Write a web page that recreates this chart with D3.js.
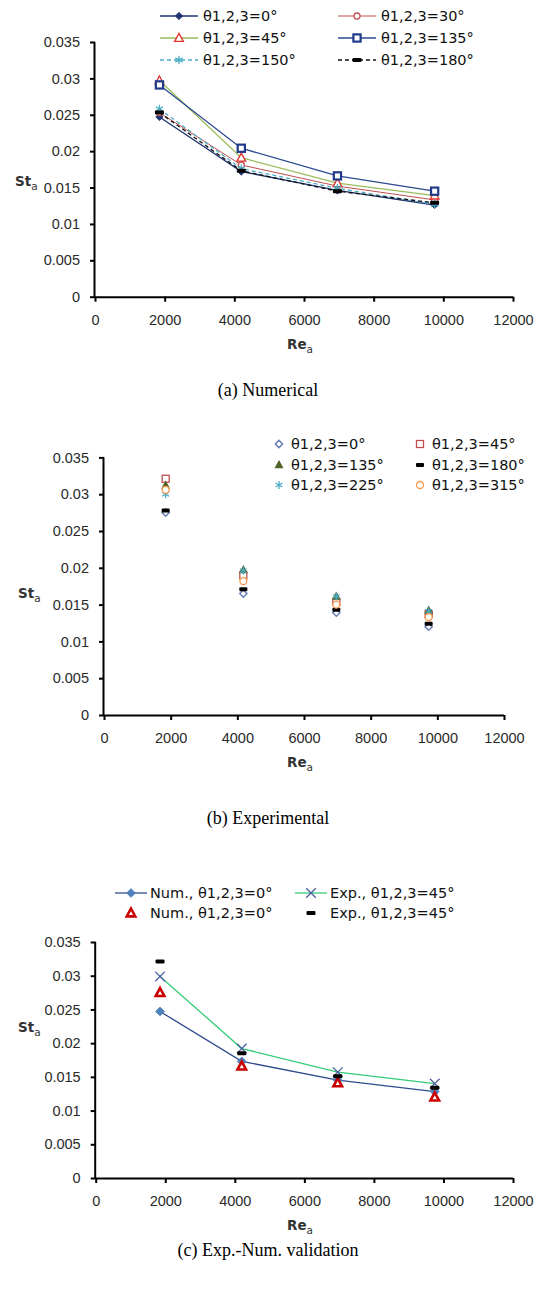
<!DOCTYPE html>
<html lang="en">
<head>
<meta charset="UTF-8">
<title>St vs Re panels</title>
<script src="https://d3js.org/d3.v7.min.js"></script>
<style>
  body { margin: 0; background: #fff; }
  svg { display: block; }
  .tick text { font-family: "Liberation Sans", Arial, sans-serif; font-size: 14.5px; fill: #2a2a2a; }
  .legend text { font-family: "DejaVu Sans", sans-serif; font-size: 14.5px; fill: #111; }
  .title { font-family: "DejaVu Sans", sans-serif; font-size: 13.5px; font-weight: bold; fill: #333; }
  .caption { font-family: "Liberation Serif", "Times New Roman", serif; font-size: 18px; fill: #000; }
</style>
</head>
<body>
<svg id="chart" width="539" height="1289"></svg>
<script>
// ---- data ----
const xTicks = [0, 2000, 4000, 6000, 8000, 10000, 12000];
const yTicks = [0, 0.005, 0.01, 0.015, 0.02, 0.025, 0.03, 0.035];

// (a) numerical
const reNum = [1850, 4200, 6960, 9750];
const numLabels = ["θ1,2,3=0°", "θ1,2,3=30°", "θ1,2,3=45°", "θ1,2,3=135°", "θ1,2,3=150°", "θ1,2,3=180°"];
const num0   = [0.0247, 0.0172, 0.0146, 0.0126];
const num30  = [0.0253, 0.0181, 0.0152, 0.0133];
const num45  = [0.0297, 0.0191, 0.0156, 0.0139];
const num135 = [0.0291, 0.0204, 0.0166, 0.0145];
const num150 = [0.0258, 0.0176, 0.0149, 0.0127];
const num180 = [0.0253, 0.0173, 0.0145, 0.0129];

// (b) experimental
const reExp = [1850, 4180, 6970, 9740];
const expLabels = ["θ1,2,3=0°", "θ1,2,3=45°", "θ1,2,3=135°", "θ1,2,3=180°", "θ1,2,3=225°", "θ1,2,3=315°"];
const exp0   = [0.0275, 0.0165, 0.0139, 0.0120];
const exp45  = [0.0321, 0.0190, 0.0154, 0.0137];
const exp135 = [0.0312, 0.0197, 0.0161, 0.0142];
const exp180 = [0.0278, 0.0171, 0.0143, 0.0124];
const exp225 = [0.0300, 0.0196, 0.0161, 0.0141];
const exp315 = [0.0306, 0.0182, 0.0150, 0.0133];

// (c) validation
const valLabels = ["Num., θ1,2,3=0°", "Exp., θ1,2,3=45°", "Num., θ1,2,3=0°", "Exp., θ1,2,3=45°"];
const valNumLine = [0.0247, 0.0173, 0.0145, 0.0128];
const valExpLine = [0.0299, 0.0192, 0.0157, 0.0140];
const valNumPts  = [0.0275, 0.0166, 0.0141, 0.0120];
const valExpPts  = [0.0321, 0.0185, 0.0151, 0.0134];

const svg = d3.select("#chart");
svg.append("rect").attr("width", 539).attr("height", 1289).attr("fill", "#fff");

// marker shapes
function marker(g, kind, color, s) {
  if (kind === "diamond" || kind === "diamondOpen") {
    g.append("path").attr("d", `M0,${-s}L${s},0L0,${s}L${-s},0Z`)
      .attr("fill", kind === "diamond" ? color : "#fff").attr("stroke", color).attr("stroke-width", kind === "diamond" ? 1 : 1.5);
  } else if (kind === "circle") {
    g.append("circle").attr("r", s).attr("fill", "#fff").attr("stroke", color).attr("stroke-width", 1.3);
  } else if (kind === "triangle" || kind === "triangleFill" || kind === "triangleBold") {
    g.append("path").attr("d", `M0,${-s}L${s * 0.95},${s * 0.75}L${-s * 0.95},${s * 0.75}Z`)
      .attr("fill", kind === "triangleFill" ? color : "#fff").attr("stroke", color)
      .attr("stroke-width", kind === "triangleBold" ? 2.6 : 1.3).attr("stroke-linejoin", "miter");
  } else if (kind === "square" || kind === "squareBold") {
    g.append("rect").attr("x", -s).attr("y", -s).attr("width", 2 * s).attr("height", 2 * s)
      .attr("fill", "#fff").attr("stroke", color).attr("stroke-width", kind === "squareBold" ? 2.2 : 1.3);
  } else if (kind === "asterisk") {
    g.append("path").attr("d", `M0,${-s}V${s}M${-s * 0.85},${-s * 0.5}L${s * 0.85},${s * 0.5}M${-s * 0.85},${s * 0.5}L${s * 0.85},${-s * 0.5}`)
      .attr("fill", "none").attr("stroke", color).attr("stroke-width", 1.3);
  } else if (kind === "x") {
    g.append("path").attr("d", `M${-s},${-s}L${s},${s}M${-s},${s}L${s},${-s}`)
      .attr("fill", "none").attr("stroke", color).attr("stroke-width", 1.3);
  } else if (kind === "dash") {
    g.append("rect").attr("x", -s).attr("y", -2).attr("width", 2 * s).attr("height", 4).attr("rx", 1)
      .attr("fill", color);
  }
}

function panel(cfg) {
  const x = d3.scaleLinear().domain([0, 12000]).range([cfg.left, cfg.right]);
  const y = d3.scaleLinear().domain([0, 0.035]).range([cfg.bottom, cfg.top]);
  const g = svg.append("g");

  const yAxis = g.append("g").attr("transform", `translate(${cfg.left},0)`)
    .call(d3.axisLeft(y).tickValues(yTicks).tickSize(5).tickPadding(10)
      .tickFormat(d => d === 0 ? "0" : String(+d.toFixed(3))));
  const xAxis = g.append("g").attr("transform", `translate(0,${cfg.bottom})`)
    .call(d3.axisBottom(x).tickValues(xTicks).tickSize(5).tickPadding(13).tickFormat(d3.format("d")));
  [xAxis, yAxis].forEach(a => {
    a.select(".domain").attr("stroke", "#000").attr("stroke-width", 2);
    a.selectAll(".tick line").attr("stroke", "#000").attr("stroke-width", 2);
  });
  yAxis.select(".domain").attr("d", `M-0.5,${cfg.top}V${cfg.bottom}`);
  xAxis.select(".domain").attr("d", `M${cfg.left},0.5H${cfg.right}`);

  // axis titles
  const yt = g.append("text").attr("class", "title").attr("x", cfg.yTitleX).attr("y", cfg.yTitleY);
  yt.append("tspan").text("St");
  yt.append("tspan").attr("dy", 4).attr("font-size", 10.5).attr("font-weight", "normal").text("a");
  const xt = g.append("text").attr("class", "title").attr("x", 300).attr("y", cfg.bottom + 52).attr("text-anchor", "middle");
  xt.append("tspan").text("Re");
  xt.append("tspan").attr("dy", 4).attr("font-size", 10.5).attr("font-weight", "normal").text("a");

  g.append("text").attr("class", "caption").attr("x", 268).attr("y", cfg.captionY)
    .attr("text-anchor", "middle").text(cfg.caption);

  const line = d3.line().x(d => x(d[0])).y(d => y(d[1]));
  cfg.series.forEach(s => {
    const pts = s.re.map((r, i) => [r, s.values[i]]);
    if (s.line) {
      g.append("path").datum(pts).attr("d", line).attr("fill", "none")
        .attr("stroke", s.line).attr("stroke-width", s.lw || 1.3)
        .attr("stroke-dasharray", s.dash || null);
    }
    pts.forEach(p => {
      const m = g.append("g").attr("transform", `translate(${x(p[0])},${y(p[1])})`);
      marker(m, s.marker, s.color, s.size);
    });
  });

  // legend
  const lg = g.append("g").attr("class", "legend");
  cfg.series.forEach((s, i) => {
    const pos = cfg.legendPos[i];
    const item = lg.append("g").attr("transform", `translate(${pos[0]},${pos[1]})`);
    if (s.line) {
      item.append("line").attr("x1", -cfg.legendLine / 2).attr("x2", cfg.legendLine / 2)
        .attr("stroke", s.line).attr("stroke-width", s.lw || 1.3).attr("stroke-dasharray", s.dash || null);
    }
    marker(item, s.marker, s.color, s.size);
    item.append("text").attr("x", cfg.legendText).attr("dy", "0.35em").text(s.label);
  });
}

panel({
  left: 95, right: 513, top: 42, bottom: 296.7,
  yTitleX: 15, yTitleY: 186, captionY: 396, caption: "(a) Numerical",
  legendLine: 38, legendText: 24,
  legendPos: [[179, 16], [357, 16], [179, 38], [357, 38], [179, 60], [357, 60]],
  series: [
    { label: numLabels[0], re: reNum, values: num0, line: "#1f3470", color: "#1f3470", marker: "diamond", size: 3.6 },
    { label: numLabels[1], re: reNum, values: num30, line: "#c0504d", lw: 1, color: "#c0504d", marker: "circle", size: 3 },
    { label: numLabels[2], re: reNum, values: num45, line: "#9bbb59", color: "#e0302a", marker: "triangle", size: 4.6 },
    { label: numLabels[3], re: reNum, values: num135, line: "#2b4a90", color: "#1f3a88", marker: "squareBold", size: 3.6 },
    { label: numLabels[4], re: reNum, values: num150, line: "#4bacc6", dash: "4,3", color: "#4bacc6", marker: "asterisk", size: 4.3 },
    { label: numLabels[5], re: reNum, values: num180, line: "#111", dash: "4,3", color: "#000", marker: "dash", size: 4.5 }
  ]
});

panel({
  left: 104, right: 504, top: 457.4, bottom: 715,
  yTitleX: 18, yTitleY: 598, captionY: 824, caption: "(b) Experimental",
  legendLine: 0, legendText: 12,
  legendPos: [[279, 444], [420, 444], [279, 465], [420, 465], [279, 485], [420, 485]],
  series: [
    { label: expLabels[0], re: reExp, values: exp0, color: "#6a7fb8", marker: "diamondOpen", size: 3.6 },
    { label: expLabels[1], re: reExp, values: exp45, color: "#c0504d", marker: "square", size: 3.5 },
    { label: expLabels[2], re: reExp, values: exp135, color: "#4f6228", marker: "triangleFill", size: 3.6 },
    { label: expLabels[3], re: reExp, values: exp180, color: "#000", marker: "dash", size: 4 },
    { label: expLabels[4], re: reExp, values: exp225, color: "#4bacc6", marker: "asterisk", size: 4 },
    { label: expLabels[5], re: reExp, values: exp315, color: "#f79646", marker: "circle", size: 3.5 }
  ]
});

panel({
  left: 95.7, right: 513, top: 942, bottom: 1178,
  yTitleX: 18, yTitleY: 1032, captionY: 1256, caption: "(c) Exp.-Num. validation",
  legendLine: 32, legendText: 19,
  legendPos: [[131, 893], [311, 893], [131, 913], [311, 913]],
  series: [
    { label: valLabels[0], re: reNum, values: valNumLine, line: "#2f4b8f", color: "#4f81bd", marker: "diamond", size: 4.3 },
    { label: valLabels[1], re: reNum, values: valExpLine, line: "#33cc77", color: "#4a5f9e", marker: "x", size: 4.8 },
    { label: valLabels[2], re: reNum, values: valNumPts, color: "#cc0000", marker: "triangleBold", size: 4.5 },
    { label: valLabels[3], re: reNum, values: valExpPts, color: "#000", marker: "dash", size: 4.5 }
  ]
});
</script>
</body>
</html>
